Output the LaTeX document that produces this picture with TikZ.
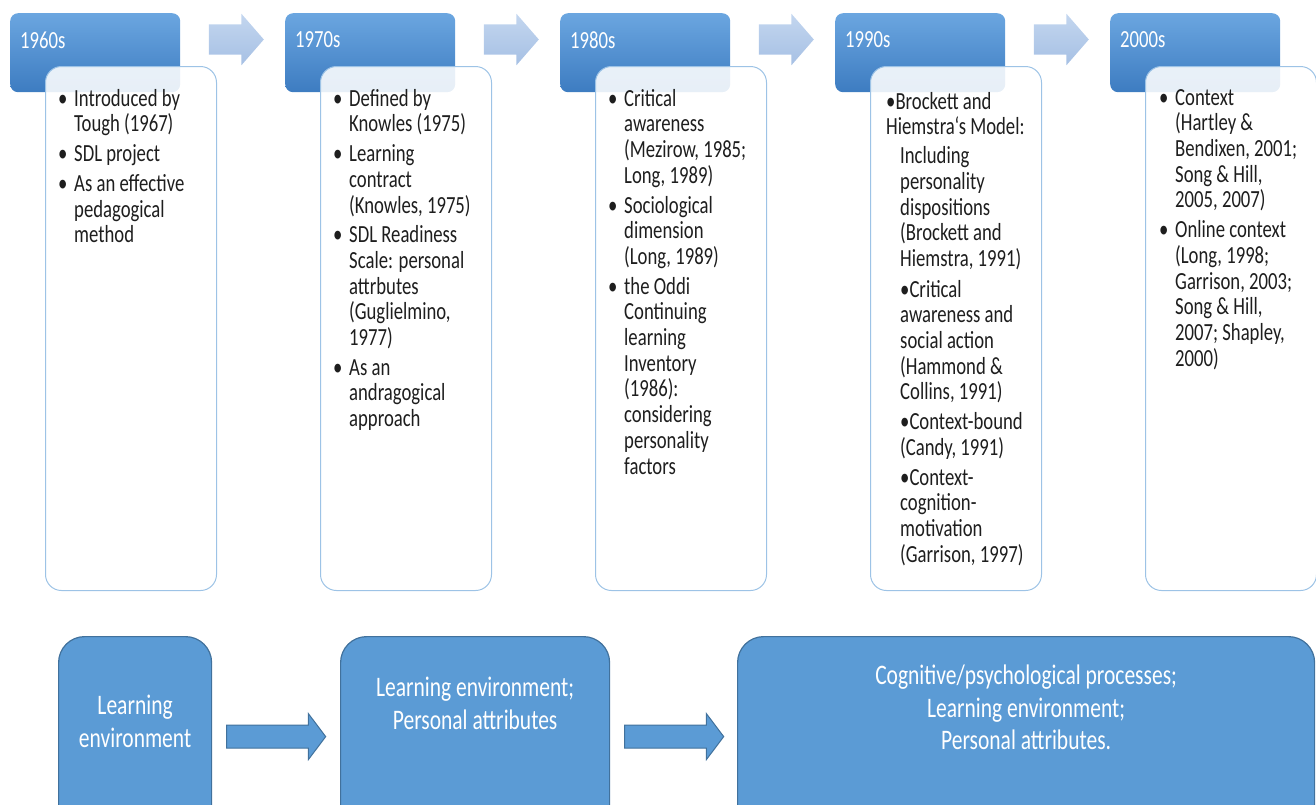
\documentclass[tikz,border=0pt]{standalone}
\usepackage{fontspec}
\setmainfont[FakeStretch=0.76]{Carlito}
\usetikzlibrary{positioning,calc,shapes.arrows}

\definecolor{hdrtop}{HTML}{6BA6E0}
\definecolor{hdrbot}{HTML}{3D7CC1}
\definecolor{cardborder}{HTML}{9DC3E6}
\definecolor{chevlight}{HTML}{C3D6EF}
\definecolor{chevdark}{HTML}{A6C0E4}
\definecolor{stagefill}{HTML}{5B9BD5}
\definecolor{stageborder}{HTML}{41719C}
\definecolor{darktext}{HTML}{1E1E1E}

\newcommand{\bul}{\makebox[12pt][l]{\hspace*{-4pt}\textbullet}}
\newcommand{\cont}{\hspace*{12pt}}
\newcommand{\cfour}{\hspace*{14pt}}

\tikzset{
  hdr/.style={rectangle, rounded corners=8pt, top color=hdrtop, bottom color=hdrbot,
              minimum width=170pt, minimum height=79pt, inner sep=0pt, anchor=north west},
  card/.style={rectangle, rounded corners=16pt, draw=cardborder, line width=1pt,
               fill=white, fill opacity=0.88, minimum width=171pt, minimum height=524pt,
               inner sep=0pt, anchor=north west},
  yearlbl/.style={font=\fontsize{24.6}{25.7}\selectfont, text=white, inner sep=0pt, anchor=west},
  cardtxt/.style={font=\fontsize{24.6}{25.7}\selectfont, text=darktext, align=left,
                  inner sep=0pt, anchor=north west},
  chev/.style={single arrow, single arrow head extend=10.5pt, single arrow tip angle=98,
               minimum width=0pt, minimum height=55pt, inner xsep=0pt, inner ysep=15pt,
               top color=chevlight, bottom color=chevdark},
  stage/.style={rectangle, rounded corners=26pt, fill=stagefill, draw=stageborder,
                line width=1.2pt, minimum height=200pt, inner sep=0pt, anchor=north west},
  stagetxt/.style={font=\fontsize{28.3}{32.5}\selectfont, text=white, align=center, inner sep=0pt},
  flowarrow/.style={single arrow, single arrow head extend=11.5pt, single arrow tip angle=106,
                    minimum width=0pt, minimum height=99pt, inner xsep=0pt, inner ysep=11pt,
                    fill=stagefill, draw=stageborder, line width=1pt}
}

\begin{document}
\begin{tikzpicture}[x=1pt, y=-1pt]
\useasboundingbox (0,0) rectangle (1316,804);
\clip (0,0) rectangle (1316,804);

%% Decade headers and their cards
\foreach \i/\yr in {0/1960s, 1/1970s, 2/1980s, 3/1990s, 4/2000s} {
  \node[hdr] (h\i) at (10+275*\i, 13) {};
  \node[yearlbl] (y\i) at ([xshift=10pt, yshift=-27pt]h\i.north west) {\yr};
}
\foreach \i in {0,...,4} { \node[card] (c\i) at (45+275*\i, 66) {}; }

%% Chevrons between headers
\foreach \i [evaluate=\i as \j using int(\i+1)] in {0,...,3} {
  \node[chev] (a\i) at ($(h\i.north east)!0.5!(h\j.north west)+(-3,26.5)$) {};
}

%% Card texts
\node[cardtxt] (t0) at ([xshift=17pt, yshift=-23pt]c0.north west)
  {\bul Introduced by\\
   \cont Tough (1967)\\[4pt]
   \bul SDL project\\[4pt]
   \bul As an effective\\
   \cont pedagogical\\
   \cont method};

\node[cardtxt] (t1) at ([xshift=17pt, yshift=-23pt]c1.north west)
  {\bul Defined by\\
   \cont Knowles (1975)\\[4pt]
   \bul Learning\\
   \cont contract\\
   \cont (Knowles, 1975)\\[4pt]
   \bul SDL Readiness\\
   \cont Scale: personal\\
   \cont attrbutes\\
   \cont (Guglielmino,\\
   \cont 1977)\\[4pt]
   \bul As an\\
   \cont andragogical\\
   \cont approach};

\node[cardtxt] (t2) at ([xshift=17pt, yshift=-23pt]c2.north west)
  {\bul Critical\\
   \cont awareness\\
   \cont (Mezirow, 1985;\\
   \cont Long, 1989)\\[4pt]
   \bul Sociological\\
   \cont dimension\\
   \cont (Long, 1989)\\[4pt]
   \bul the Oddi\\
   \cont Continuing\\
   \cont learning\\
   \cont Inventory\\
   \cont (1986):\\
   \cont considering\\
   \cont personality\\
   \cont factors};

\node[cardtxt] (t3) at ([xshift=16pt, yshift=-26pt]c3.north west)
  {\textbullet Brockett and\\
   Hiemstra‘s Model:\\[3pt]
   \cfour Including\\
   \cfour personality\\
   \cfour dispositions\\
   \cfour (Brockett and\\
   \cfour Hiemstra, 1991)\\[5pt]
   \cfour\textbullet Critical\\
   \cfour awareness and\\
   \cfour social action\\
   \cfour (Hammond \&\\
   \cfour Collins, 1991)\\[4pt]
   \cfour\textbullet Context-bound\\
   \cfour (Candy, 1991)\\[4pt]
   \cfour\textbullet Context-\\
   \cfour cognition-\\
   \cfour motivation\\
   \cfour (Garrison, 1997)};

\node[cardtxt] (t4) at ([xshift=18pt, yshift=-23pt]c4.north west)
  {\bul Context\\
   \cont (Hartley \&\\
   \cont Bendixen, 2001;\\
   \cont Song \& Hill,\\
   \cont 2005, 2007)\\[4pt]
   \bul Online context\\
   \cont (Long, 1998;\\
   \cont Garrison, 2003;\\
   \cont Song \& Hill,\\
   \cont 2007; Shapley,\\
   \cont 2000)};

%% Bottom stages
\node[stage, minimum width=153pt] (stA) at (58, 636) {};
\node[stage, minimum width=269pt] (stB) at (340, 636) {};
\node[stage, minimum width=577pt] (stC) at (737, 636) {};

\node[stagetxt] (lA) at ([yshift=15pt]stA.center) {Learning\\environment};
\node[stagetxt] (lB) at ([yshift=33pt]stB.center) {Learning environment;\\Personal attributes};
\node[stagetxt] (lC) at ([yshift=29pt]stC.center)
  {Cognitive/psychological processes;\\Learning environment;\\Personal attributes.};

% Flow between stages
\node[flowarrow, right=14pt of stA] (fAB) {};
\node[flowarrow, right=14pt of stB] (fBC) {};

\end{tikzpicture}
\end{document}
